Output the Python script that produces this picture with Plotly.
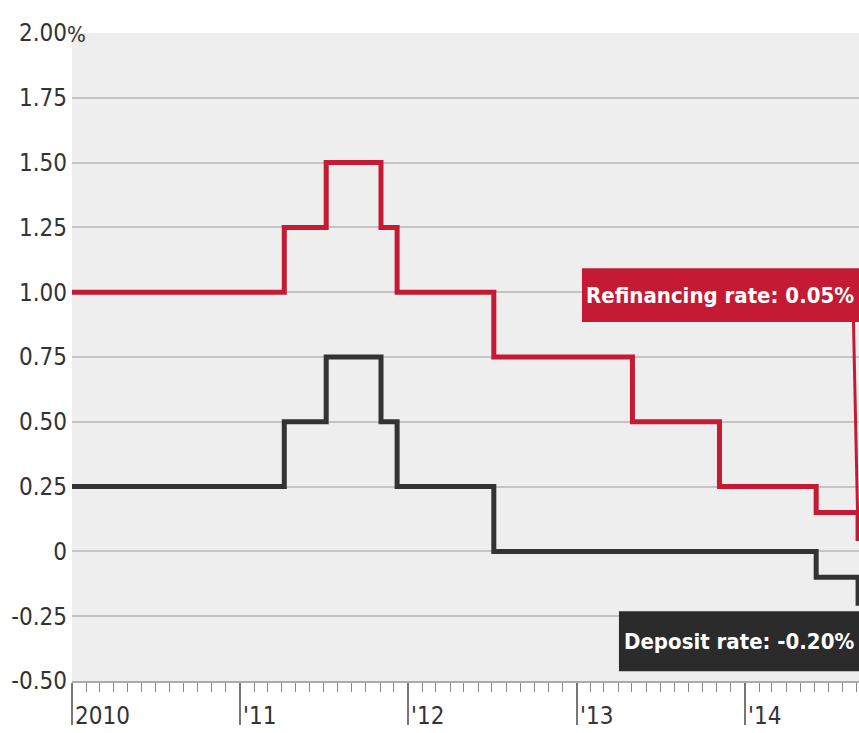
import plotly.graph_objects as go

# ---- data ----
change_dates = ["2010-01-01", "2011-04-07", "2011-07-07", "2011-11-03", "2011-12-08",
                "2012-07-05", "2013-05-02", "2013-11-07", "2014-06-05", "2014-09-04"]
refi_rate = [1.00, 1.25, 1.50, 1.25, 1.00, 0.75, 0.50, 0.25, 0.15, 0.05]
deposit_rate = [0.25, 0.50, 0.75, 0.50, 0.25, 0.00, 0.00, 0.00, -0.10, -0.20]

y_tickvals = [2.00, 1.75, 1.50, 1.25, 1.00, 0.75, 0.50, 0.25, 0.0, -0.25, -0.50]
y_ticktext = ["2.00", "1.75", "1.50", "1.25", "1.00", "0.75", "0.50", "0.25", "0", "-0.25", "-0.50"]
x_tickvals = ["2010-01-01", "2011-01-01", "2012-01-01", "2013-01-01", "2014-01-01"]
x_ticktext = ["2010", "'11", "'12", "'13", "'14"]

refi_label = "Refinancing rate: 0.05%"
deposit_label = "Deposit rate: -0.20%"

RED = "#c41a33"
DARK = "#333333"
BOX_DARK = "#2b2b2b"
FONT = ("Noto Sans ExtraCondensed, Noto Sans Condensed, Liberation Sans Narrow, "
        "DejaVu Sans Condensed, sans-serif")

fig = go.Figure()
fig.add_trace(go.Scatter(x=change_dates + ["2014-09-10"], y=refi_rate + [refi_rate[-1]],
                         mode="lines", line=dict(color=RED, width=5, shape="hv"),
                         hoverinfo="skip", showlegend=False))
fig.add_trace(go.Scatter(x=change_dates + ["2014-09-10"], y=deposit_rate + [deposit_rate[-1]],
                         mode="lines", line=dict(color=DARK, width=5, shape="hv"),
                         hoverinfo="skip", showlegend=False))

annotations = []
for xv, xt in zip(x_tickvals, x_ticktext):
    annotations.append(dict(x=xv, xref="x", y=0, yref="paper", text=xt, showarrow=False,
                            xanchor="left", yanchor="middle", xshift=1, yshift=-35,
                            font=dict(family=FONT, size=24, color="#333333")))
# percent sign on top tick
annotations.append(dict(x=0, xref="paper", y=y_tickvals[0], yref="y", text="%", showarrow=False,
                        xanchor="left", yanchor="middle", xshift=-7, yshift=-1,
                        font=dict(family=FONT, size=22, color="#333333")))
annotations.append(dict(x=0.824, xref="paper", y=0.9885, yref="y", text="<b>" + refi_label + "</b>",
                        showarrow=False, xanchor="center", yanchor="middle",
                        font=dict(family=FONT, size=22, color="white")))
annotations.append(dict(x=0.8475, xref="paper", y=-0.346, yref="y", text="<b>" + deposit_label + "</b>",
                        showarrow=False, xanchor="center", yanchor="middle",
                        font=dict(family=FONT, size=22, color="white")))

shapes = [
    dict(type="rect", xref="paper", yref="y", x0=0.648, x1=1.0, y0=0.885, y1=1.092,
         fillcolor=RED, line=dict(width=0), layer="above"),
    dict(type="rect", xref="paper", yref="y", x0=0.695, x1=1.0, y0=-0.462, y1=-0.231,
         fillcolor=BOX_DARK, line=dict(width=0), layer="above"),
    dict(type="line", xref="x", yref="y", x0="2014-08-25", y0=0.885,
         x1=change_dates[-1], y1=refi_rate[-1], line=dict(color=RED, width=3)),
]

fig.update_layout(
    width=859, height=733,
    margin=dict(l=72, r=0, t=33, b=52),
    paper_bgcolor="white", plot_bgcolor="#eeeeee",
    font=dict(family=FONT, color="#333333"),
    annotations=annotations, shapes=shapes,
    xaxis=dict(type="date", range=["2010-01-01", "2014-09-06"],
               showgrid=False, zeroline=False,
               showline=True, linecolor="#aaaaaa", linewidth=2,
               tickmode="array", tickvals=x_tickvals, showticklabels=False,
               ticks="outside", ticklen=42, tickwidth=1.5, tickcolor="#777777",
               minor=dict(dtick="M1", tick0="2010-01-01", ticks="outside", ticklen=9,
                          tickwidth=1.2, tickcolor="#888888", showgrid=False)),
    yaxis=dict(range=[-0.5, 2.0], tickmode="array", tickvals=y_tickvals, ticktext=y_ticktext,
               showgrid=True, gridcolor="#c4c4c4", gridwidth=1.5, zeroline=False,
               ticks="", ticklabelstandoff=4,
               tickfont=dict(family=FONT, size=24, color="#333333")),
)

fig.write_html("out.html", config={"displayModeBar": False},
               post_script="document.body.style.margin='0';document.body.style.overflow='hidden';")
